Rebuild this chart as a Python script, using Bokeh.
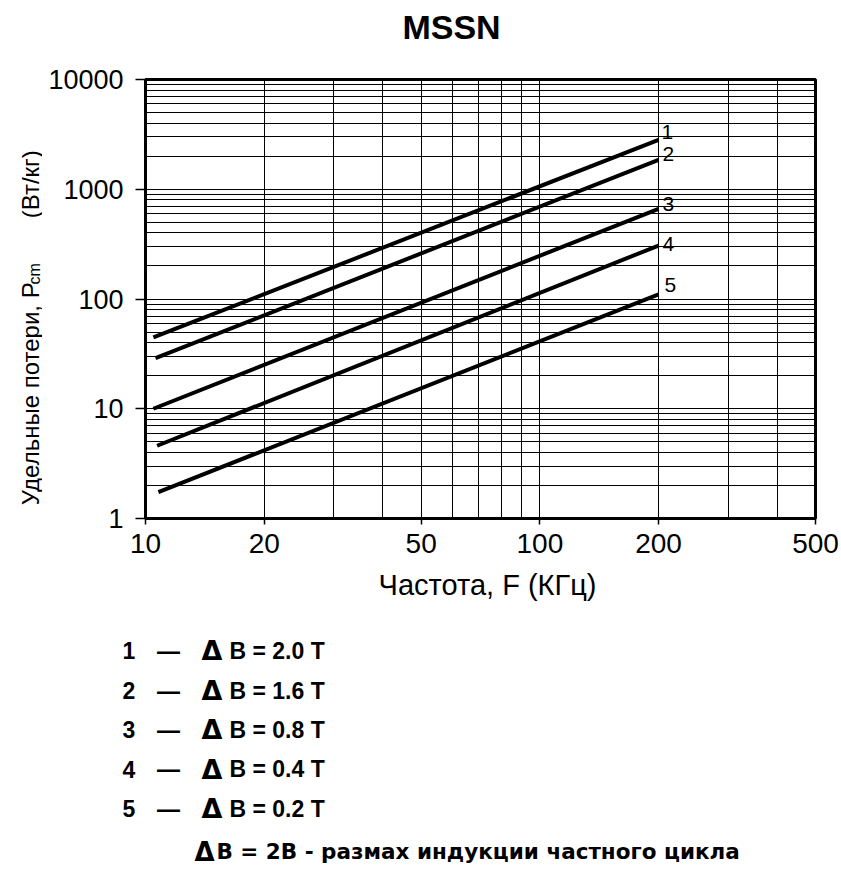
import math
from bokeh.plotting import figure
from bokeh.layouts import column, row
from bokeh.models import FixedTicker, ColumnDataSource, Range1d
from bokeh.core.properties import value
from bokeh.embed import file_html
from bokeh.resources import INLINE

# ---- data ----
curve_ids = ["1", "2", "3", "4", "5"]
freq_start = [10.47, 10.6, 10.47, 10.7, 10.78]      # kHz
freq_end = [200, 200, 200, 200, 200]                # kHz
loss_start = [44.6, 28.9, 10.0, 4.6, 1.74]          # W/kg
loss_end = [2820, 1855, 664, 307, 110]              # W/kg
delta_b = ["2.0", "1.6", "0.8", "0.4", "0.2"]       # T

x_major = [10, 20, 50, 100, 200, 500]
x_minor = [30, 40, 60, 70, 80, 90, 300, 400]
x_labels = ["10", "20", "50", "100", "200", "500"]
y_major = [1, 10, 100, 1000, 10000]
y_minor = [2, 3, 4, 5, 6, 7, 8, 9,
           20, 30, 40, 50, 60, 70, 80, 90,
           200, 300, 400, 500, 600, 700, 800, 900,
           2000, 3000, 4000, 5000, 6000, 7000, 8000, 9000]
y_labels = ["1", "10", "100", "1000", "10000"]

title_text = "MSSN"
x_title = "Частота, F (КГц)"
y_title_main = "Удельные потери, P"
y_title_sub = "cm"
y_title_units = "(Вт/кг)"
footnote = "B = 2B  - размах индукции частного цикла"

# ---- styles / layout ----
label_dx = [3, 4, 4, 4, 6]
label_dy = [-8, -6, -5, -2, -9]
ARIAL = "Liberation Sans"
DEJAVU = "DejaVu Sans"

W = 841
HEAD_H = 66
ROW_H = 497
FOOT_H = 325
YLAB_W = 42
MAIN_W = W - YLAB_W
FRAME_LEFT = 145 - YLAB_W


def pixel_fig(w, h):
    f = figure(width=w, height=h, x_range=Range1d(0, w), y_range=Range1d(h, 0),
               output_backend="svg", toolbar_location=None,
               x_axis_location=None, y_axis_location=None,
               min_border=0, min_border_left=0, min_border_right=0,
               min_border_top=0, min_border_bottom=0)
    f.outline_line_color = None
    f.xgrid.visible = False
    f.ygrid.visible = False
    f.background_fill_color = "white"
    f.border_fill_color = "white"
    return f


def txt(f, x, y, s, font=ARIAL, size="20px", style="normal", align="left",
        baseline="middle", angle=0.0):
    f.text(x=[x], y=[y], text=[s], text_font=value(font), text_font_size=size,
           text_font_style=style, text_align=align, text_baseline=baseline,
           angle=angle, text_color="black")


# ---- main chart ----
p = figure(width=MAIN_W, height=ROW_H, x_axis_type="log", y_axis_type="log",
           x_range=(10, 500), y_range=(1, 10000),
           output_backend="svg", toolbar_location=None,
           min_border_left=FRAME_LEFT, min_border_right=MAIN_W - FRAME_LEFT - 670,
           min_border_top=13, min_border_bottom=ROW_H - 13 - 439)

p.background_fill_color = "white"
p.border_fill_color = "white"
p.outline_line_color = "black"
p.outline_line_width = 3

xt = FixedTicker(ticks=x_major, minor_ticks=x_minor)
yt = FixedTicker(ticks=y_major, minor_ticks=y_minor)
p.xaxis.ticker = xt
p.yaxis.ticker = yt
p.xgrid.ticker = xt
p.ygrid.ticker = yt
p.xaxis.major_label_overrides = {v: s for v, s in zip(x_major, x_labels)}
p.yaxis.major_label_overrides = {v: s for v, s in zip(y_major, y_labels)}

for g in (p.xgrid, p.ygrid):
    g.grid_line_color = "black"
    g.grid_line_width = 1
    g.grid_line_alpha = 1
    g.minor_grid_line_color = "black"
    g.minor_grid_line_width = 1
    g.minor_grid_line_alpha = 1

for ax in (p.xaxis, p.yaxis):
    ax.axis_line_color = "black"
    ax.axis_line_width = 3
    ax.major_tick_line_color = "black"
    ax.major_tick_line_width = 1.5
    ax.major_tick_in = 0
    ax.minor_tick_in = 0
    ax.minor_tick_out = 0
    ax.major_label_text_font = ARIAL
    ax.major_label_text_color = "black"

p.xaxis.major_label_text_font_size = "28px"
p.yaxis.major_label_text_font_size = "27px"
p.xaxis.major_tick_out = 6
p.xaxis.major_label_standoff = 9
p.yaxis.major_tick_out = 10
p.yaxis.major_label_standoff = 12

src = ColumnDataSource(dict(
    xs=[[a, b] for a, b in zip(freq_start, freq_end)],
    ys=[[a, b] for a, b in zip(loss_start, loss_end)],
))
p.multi_line(xs="xs", ys="ys", source=src, line_color="black", line_width=4)

lsrc = ColumnDataSource(dict(x=freq_end, y=loss_end, t=curve_ids, dx=label_dx, dy=label_dy))
p.text(x="x", y="y", text="t", x_offset="dx", y_offset="dy", source=lsrc,
       text_font=value(ARIAL), text_font_size="21px", text_color="black",
       text_align="left", text_baseline="middle")

# ---- title strip ----
head = pixel_fig(W, HEAD_H)
txt(head, 451, 26, title_text, size="34px", style="bold", align="center")

# ---- y-axis title strip (rotated) ----
ylab = pixel_fig(YLAB_W, ROW_H)
oy = HEAD_H
txt(ylab, 29.5, 548 - oy, y_title_main, size="24px", baseline="alphabetic", angle=math.pi / 2)
txt(ylab, 33.5, 298 - oy, y_title_sub, size="16px", baseline="alphabetic", angle=math.pi / 2)
txt(ylab, 29.5, 146 - oy, y_title_units, size="24px", align="right", baseline="alphabetic",
    angle=math.pi / 2)

# ---- footer: x title, legend, footnote ----
foot = pixel_fig(W, FOOT_H)
fy = HEAD_H + ROW_H
txt(foot, 487, 584 - fy, x_title, size="29px", align="center", baseline="alphabetic")

row_y = [650, 690, 729, 768.5, 808]
for cid, db, yy in zip(curve_ids, delta_b, row_y):
    txt(foot, 122, yy - fy, cid, size="23px", style="bold")
    txt(foot, 168, yy - fy, "—", size="23px", style="bold", align="center")
    txt(foot, 201, yy - fy, "Δ", font=DEJAVU, size="27px", style="bold")
    txt(foot, 229, yy - fy, "B = " + db + " T", size="23px", style="bold")

txt(foot, 214, 851 - fy, "Δ", font=DEJAVU, size="26px", style="bold", align="right")
txt(foot, 216, 851 - fy, footnote, font=DEJAVU, size="21.5px", style="bold")

layout = column(head, row(ylab, p), foot)
open("out.html", "w").write(file_html(layout, INLINE))
